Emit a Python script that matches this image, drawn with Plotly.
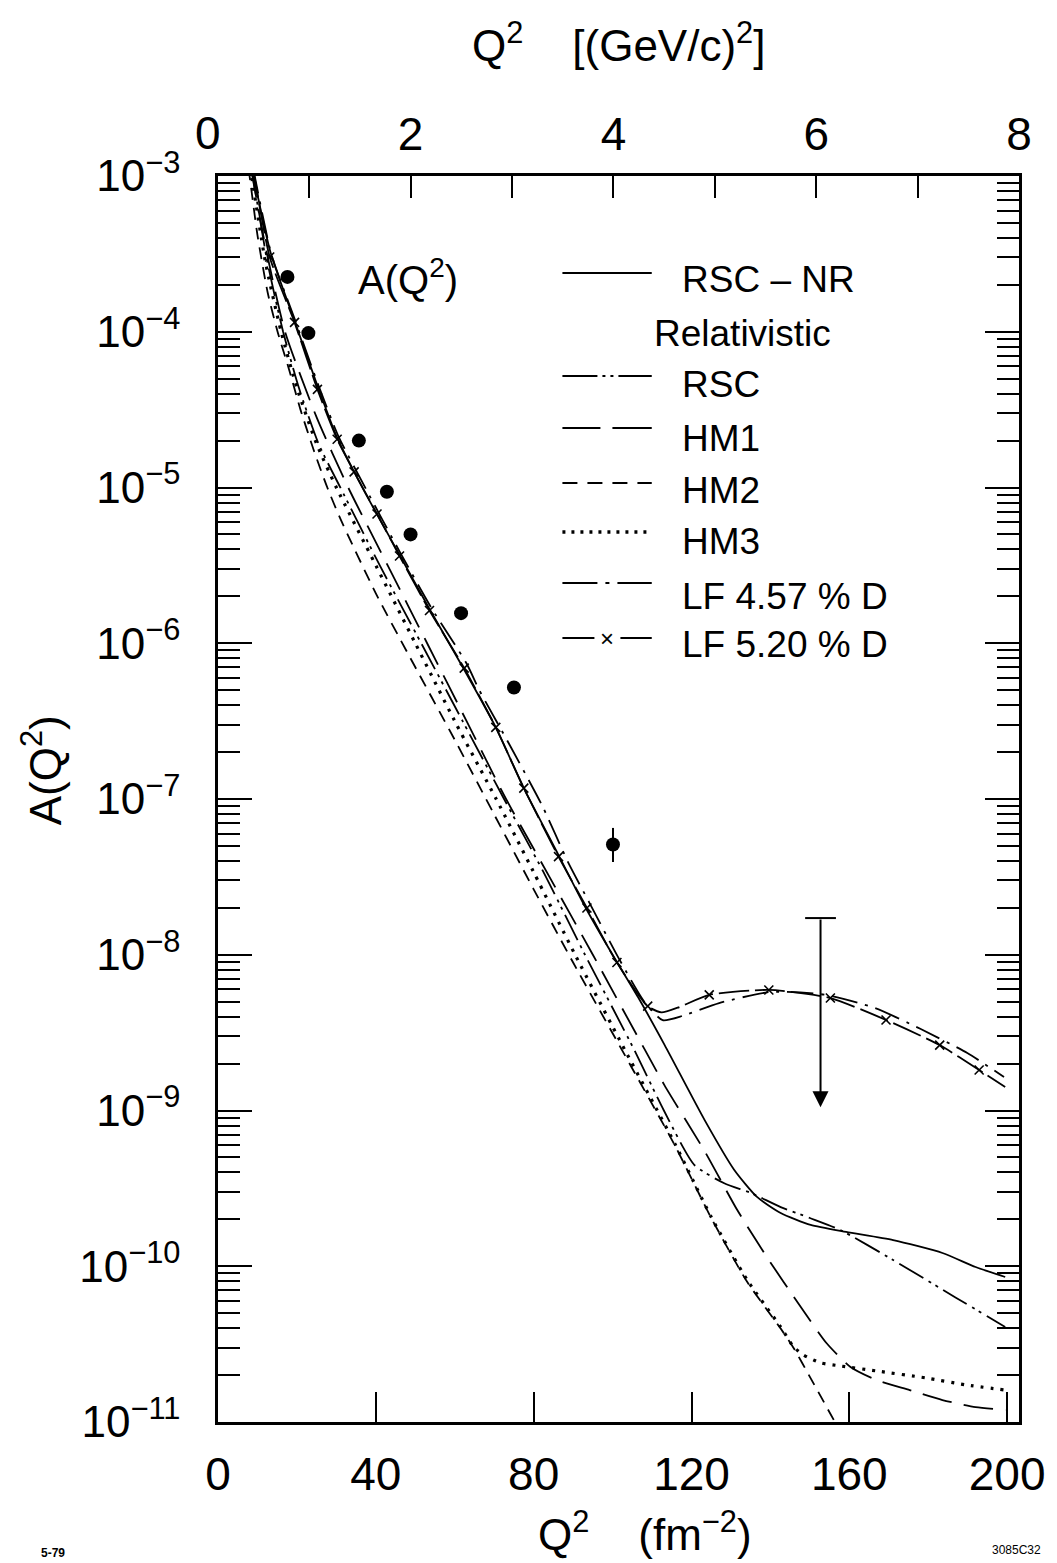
import numpy as np
import plotly.graph_objects as go

# ---------------- data (Q^2 in fm^-2, log10 A) ----------------
data_q2 = [17.6, 22.9, 35.7, 42.8, 48.8, 61.6, 75.0, 100.1]
data_A = [2.25e-4, 9.8e-5, 2.0e-5, 9.4e-6, 5.0e-6, 1.56e-6, 5.2e-7, 5.1e-8]
data_err_plus = [0, 0, 0, 0, 0, 0, 0, 1.42e-8]
data_err_minus = [0, 0, 0, 0, 0, 0, 0, 1.16e-8]

limit_q2 = [152.7]
limit_top = [1.72e-8]
limit_tip = [1.05e-9]

rsc_nr_q2 = [8.6, 9.0, 13.3, 19.4, 24.4, 30.2, 37.0, 45.3, 53.6, 62.4, 70.4, 77.5, 86.3, 93.0,
             100.0, 106.4, 113.2, 123.3, 130.8, 136.6, 142.6, 150.2, 159.2, 171.1, 183.6, 192.0, 199.5]
rsc_nr_log = [-2.95, -3.00, -3.49, -3.93, -4.29, -4.68, -5.02, -5.40, -5.78, -6.17, -6.54, -6.93, -7.36, -7.69,
              -8.00, -8.27, -8.58, -9.06, -9.38, -9.555, -9.658, -9.735, -9.780, -9.832, -9.915, -10.005, -10.069]

rsc_rel_q2 = [8.4, 8.8, 12.5, 16.5, 20.5, 25.5, 31, 41, 51.5, 62, 72.5, 82.5, 93, 105.5, 113, 120.75,
              128.3, 135.1, 142.6, 150, 157.7, 171.1, 186.9, 199.5]
rsc_rel_log = [-2.95, -3.0, -3.55, -4.0, -4.36, -4.72, -5.0, -5.5, -6.0, -6.5, -7.0, -7.47, -8.0, -8.611, -9.0, -9.35,
               -9.467, -9.53, -9.62, -9.69, -9.767, -9.96, -10.20, -10.39]

hm1_q2 = [8.3, 8.7, 12, 17, 25, 33, 43, 53, 63, 73, 84, 95, 108.2, 113.2, 123.3, 131.6, 139.1, 147.7,
          154.2, 160.3, 166.8, 175.3, 183.6, 192.0, 199.5]
hm1_log = [-2.95, -3.0, -3.45, -4.0, -4.55, -5.0, -5.5, -6.0, -6.5, -7.0, -7.5, -8.0, -8.611, -8.84, -9.26, -9.639,
           -9.941, -10.262, -10.493, -10.647, -10.73, -10.795, -10.859, -10.904, -10.923]

hm2_q2 = [7.7, 8.0, 10, 12.6, 15.1, 18.1, 20.9, 24.4, 27.7, 31, 40, 48, 60, 70, 80, 90, 103, 115.7, 125,
          134.1, 142.6, 146, 150, 157]
hm2_log = [-2.95, -3.0, -3.38, -3.75, -4.0, -4.25, -4.5, -4.77, -5.0, -5.2, -5.68, -6.06, -6.62, -7.1, -7.58,
           -8.05, -8.64, -9.22, -9.69, -10.1, -10.4, -10.53, -10.71, -11.03]

hm3_q2 = [8.1, 8.5, 12, 16, 20, 25, 30, 40, 50, 60, 70.5, 80, 90.5, 103.1, 115.7, 125, 134.1, 142.6, 145.9,
          148.4, 152.7, 157.7, 166.8, 179.4, 189.4, 199.5]
hm3_log = [-2.95, -3.0, -3.55, -4.0, -4.36, -4.72, -5.0, -5.5, -6.0, -6.5, -7.0, -7.47, -8.0, -8.611, -9.209,
           -9.684, -10.088, -10.39, -10.518, -10.57, -10.62, -10.64, -10.672, -10.717, -10.761, -10.795]

lf457_q2 = [8.9, 9.3, 13.5, 19.6, 25.4, 30.5, 37.5, 46, 54, 63, 66.2, 74.2, 82.3, 88.8, 94, 101.5, 108,
            112.7, 118, 127, 140.1, 154.2, 166.5, 178.1, 189.9, 199.2]
lf457_log = [-2.95, -3.0, -3.5, -3.93, -4.34, -4.67, -5.01, -5.41, -5.77, -6.13, -6.3, -6.666, -7.05, -7.41,
             -7.66, -8.02, -8.30, -8.42, -8.39, -8.31, -8.239, -8.258, -8.342, -8.477, -8.631, -8.785]

lf520_q2 = [8.8, 9.2, 13.1, 19.4, 25.2, 30.2, 34.5, 40.3, 46.0, 53.6, 62.4, 70.4, 77.5, 86.3, 93.5, 101.1,
            108.9, 112.4, 116.5, 124.5, 139.6, 155.2, 169.3, 182.9, 192.9, 199.5]
lf520_log = [-2.95, -3.0, -3.52, -3.94, -4.37, -4.69, -4.90, -5.17, -5.44, -5.79, -6.16, -6.54, -6.93, -7.37,
             -7.70, -8.05, -8.33, -8.37, -8.34, -8.258, -8.226, -8.278, -8.419, -8.58, -8.74, -8.849]
lf520_mark_q2 = [13.1, 19.4, 25.2, 30.2, 34.5, 40.3, 46.0, 53.6, 62.4, 70.4, 77.5, 86.3, 93.5, 101.1, 108.9,
                 124.5, 139.6, 155.2, 169.3, 182.9, 192.9]
lf520_mark_log = [-3.52, -3.94, -4.37, -4.69, -4.90, -5.17, -5.44, -5.79, -6.16, -6.54, -6.93, -7.37, -7.70,
                  -8.05, -8.33, -8.258, -8.226, -8.278, -8.419, -8.58, -8.74]

y_tick_exp = [-3, -4, -5, -6, -7, -8, -9, -10, -11]
x_tick_vals = [0, 40, 80, 120, 160, 200]
top_tick_vals = [1, 2, 3, 4, 5, 6, 7, 8]
top_tick_text = ["", "2", "", "4", "", "6", "", "8"]

FONT = "Liberation Sans"

fig = go.Figure()

def curve(q2, lg, dash, width=1.8, shape="spline"):
    fig.add_trace(go.Scatter(x=q2, y=np.power(10.0, lg), mode="lines",
                             line=dict(color="black", width=width, dash=dash, shape=shape, smoothing=0.6),
                             showlegend=False, hoverinfo="skip"))

curve(rsc_nr_q2, rsc_nr_log, "solid", 1.8)
curve(rsc_rel_q2, rsc_rel_log, "28px,6px,3px,5px,3px,6px", 1.8)
curve(hm1_q2, hm1_log, "30px,12px", 1.8)
curve(hm2_q2, hm2_log, "12px,8px", 1.8)
curve(hm3_q2, hm3_log, "3px,7px", 3.2)
curve(lf457_q2, lf457_log, "26px,8px,3px,8px", 1.8)
curve(lf520_q2, lf520_log, "30px,6px", 1.8)

fig.add_trace(go.Scatter(x=lf520_mark_q2, y=np.power(10.0, lf520_mark_log), mode="markers",
                         marker=dict(symbol="x-thin", size=9, line=dict(color="black", width=1.6)),
                         showlegend=False, hoverinfo="skip"))

fig.add_trace(go.Scatter(x=data_q2, y=data_A, mode="markers",
                         marker=dict(symbol="circle", size=14, color="black"),
                         error_y=dict(type="data", symmetric=False, array=data_err_plus,
                                      arrayminus=data_err_minus, width=0, thickness=2, color="black"),
                         showlegend=False, hoverinfo="skip"))

# upper limit: cap + arrow
fig.add_trace(go.Scatter(x=limit_q2, y=limit_top, mode="markers",
                         marker=dict(symbol="line-ew", size=22, line=dict(color="black", width=2)),
                         showlegend=False, hoverinfo="skip"))
fig.add_annotation(x=limit_q2[0], y=np.log10(limit_tip[0]), ax=limit_q2[0], ay=np.log10(limit_top[0]),
                   xref="x", yref="y", axref="x", ayref="y", showarrow=True, arrowhead=2,
                   arrowsize=1.6, arrowwidth=2, arrowcolor="black", text="")

# second (top) axis carrier trace
fig.add_trace(go.Scatter(x=[1, 8], y=[1e-3, 1e-3], xaxis="x2", mode="lines",
                         line=dict(color="rgba(0,0,0,0)"), showlegend=False, hoverinfo="skip"))

# ---------------- legend (hand-built) ----------------
def px_x(p):
    return (p - 218) / 807.0

def px_y(p):
    return (1422 - p) / 1246.0

def label(px, py, text, size, xanchor="center", angle=0, bold=False):
    fig.add_annotation(x=px_x(px), y=px_y(py), xref="paper", yref="paper",
                       text=("<b>%s</b>" % text) if bold else text,
                       showarrow=False, xanchor=xanchor, yanchor="middle", textangle=angle,
                       font=dict(family=FONT, size=size, color="black"))

leg_x0, leg_x1 = px_x(565), px_x(655)
legend_rows = [
    ("RSC – NR", 279, 273, "solid", 2),
    ("RSC", 384, 376, "35px,5px,3px,5px,3px,5px,34px", 2),
    ("HM1", 438, 428, "38px,12px,40px", 2),
    ("HM2", 491, 483, "15px,10px", 2),
    ("HM3", 541, 532, "3px,6px", 3.5),
    ("LF 4.57 % D", 596, 583, "35px,8px,4px,8px,35px", 2),
    ("LF 5.20 % D", 644, 638, "32px,26px,32px", 2),
]
for text, ty, ly, dash, w in legend_rows:
    fig.add_shape(type="line", xref="paper", yref="paper", x0=leg_x0, x1=leg_x1,
                  y0=px_y(ly), y1=px_y(ly), line=dict(color="black", width=w, dash=dash))
    label(683, ty, text, 37, xanchor="left")
label(655, 333, "Relativistic", 37, xanchor="left")
label(610, 638, "×", 24)

# in-plot label
label(409, 277, "A(Q<sup>2</sup>)", 40)

# axis titles and corner marks
label(622, 42, "Q<sup>2</sup>    [(GeV/c)<sup>2</sup>]", 44)
label(648, 1531, "Q<sup>2</sup>    (fm<sup>−2</sup>)", 44)
label(40, 770, "A(Q<sup>2</sup>)", 44, angle=-90)
label(208, 133, "0", 46)
label(52, 1553, "5-79", 12, bold=True)
label(1022, 1550, "3085C32", 12)

fig.update_layout(
    width=1057, height=1563,
    margin=dict(l=218, r=32, t=176, b=141),
    paper_bgcolor="white", plot_bgcolor="white",
    showlegend=False,
    xaxis=dict(range=[0, 203], tickvals=x_tick_vals, ticktext=[str(v) for v in x_tick_vals],
               ticks="inside", ticklen=30, tickwidth=2, tickcolor="black",
               showline=True, linewidth=2.5, linecolor="black", mirror=True,
               showgrid=False, zeroline=False, ticklabelstandoff=10,
               tickfont=dict(family=FONT, size=46, color="black")),
    xaxis2=dict(range=[0.1, 8.0], overlaying="x", side="top", tickvals=top_tick_vals,
                ticktext=top_tick_text, ticks="inside", ticklen=22, tickwidth=2, tickcolor="black",
                showline=False, showgrid=False, zeroline=False, ticklabelstandoff=16,
                tickfont=dict(family=FONT, size=46, color="black")),
    yaxis=dict(type="log", range=[-11, -3],
               tickvals=[10.0 ** e for e in y_tick_exp],
               ticktext=["10<sup>−%d</sup>" % (-e) for e in y_tick_exp],
               ticks="inside", ticklen=34, tickwidth=2, tickcolor="black",
               minor=dict(ticks="inside", ticklen=22, tickwidth=1.5, tickcolor="black",
                          dtick="D1", showgrid=False),
               showline=True, linewidth=2.5, linecolor="black", mirror="ticks",
               showgrid=False, zeroline=False, ticklabelstandoff=26,
               tickfont=dict(family=FONT, size=44, color="black")),
)

fig.write_html("out.html")
